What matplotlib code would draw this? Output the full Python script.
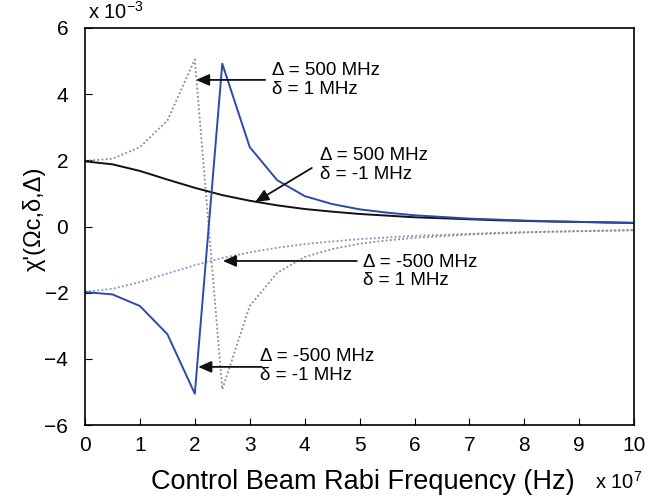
import matplotlib
matplotlib.use("Agg")
import matplotlib.pyplot as plt

plt.rcParams['font.family'] = ['Liberation Sans', 'DejaVu Sans']

# x values in units of 1e7 Hz
x = [0, 0.5, 1, 1.5, 2, 2.5, 3, 3.5, 4, 4.5, 5, 5.5, 6, 6.5, 7, 7.5, 8, 8.5, 9, 9.5, 10]

# values in units of 1e-3
blue_solid = [-1.98, -2.05, -2.4, -3.25, -5.05, 4.92, 2.4, 1.4, 0.92, 0.68, 0.52, 0.42,
              0.34, 0.29, 0.24, 0.21, 0.18, 0.16, 0.14, 0.13, 0.11]
grey_dotted = [1.98, 2.05, 2.4, 3.2, 5.05, -4.92, -2.4, -1.4, -0.92, -0.68, -0.52, -0.42,
               -0.34, -0.29, -0.24, -0.21, -0.18, -0.16, -0.14, -0.13, -0.11]
black_solid = [1.97, 1.88, 1.68, 1.42, 1.17, 0.95, 0.78, 0.64, 0.53, 0.45, 0.38, 0.33,
               0.28, 0.25, 0.22, 0.19, 0.17, 0.15, 0.14, 0.12, 0.11]
lblue_dotted = [-1.97, -1.88, -1.68, -1.42, -1.17, -0.95, -0.78, -0.64, -0.53, -0.45, -0.38,
                -0.33, -0.28, -0.25, -0.22, -0.19, -0.17, -0.15, -0.14, -0.12, -0.11]

xticks = [0, 1, 2, 3, 4, 5, 6, 7, 8, 9, 10]
yticks = [-6, -4, -2, 0, 2, 4, 6]

labels = ["\u0394 = 500 MHz\n\u03b4 = 1 MHz",
          "\u0394 = 500 MHz\n\u03b4 = -1 MHz",
          "\u0394 = -500 MHz\n\u03b4 = 1 MHz",
          "\u0394 = -500 MHz\n\u03b4 = -1 MHz"]
heads = [(2.02, 4.43), (3.10, 0.74), (2.51, -1.04), (2.06, -4.24)]
tails = [(3.28, 4.43), (4.13, 1.77), (4.95, -1.04), (3.22, -4.24)]
text_pos = [(3.41, 4.43), (4.28, 1.86), (5.06, -1.36), (3.19, -4.21)]

fig = plt.figure(figsize=(6.69, 4.99), dpi=100)
ax = fig.add_axes([0.127, 0.148, 0.821, 0.796])

ax.plot(x, lblue_dotted, color='#7f8fd0', lw=1.3, ls=(0, (1, 1.3)))
ax.plot(x, grey_dotted, color='#8a8a8a', lw=1.3, ls=(0, (1, 1.3)))
ax.plot(x, black_solid, color='#111111', lw=1.4)
ax.plot(x, blue_solid, color='#2c4aa8', lw=1.4)

ax.set_xlim(0, 10)
ax.set_ylim(-6, 6)
ax.set_xticks(xticks)
ax.set_yticks(yticks)
ax.set_xticklabels([str(t) for t in xticks])
ax.set_yticklabels([str(t).replace('-', '\u2212') for t in yticks])
ax.tick_params(direction='in', length=5, labelsize=15, top=False, right=False,
               width=0.8)
ax.tick_params(axis='y', pad=12)
ax.tick_params(axis='x', pad=8)
for s in ax.spines.values():
    s.set_linewidth(1.2)

for lab, h, t, tp in zip(labels, heads, tails, text_pos):
    ax.annotate('', xy=h, xytext=t,
                arrowprops=dict(arrowstyle='-|>,head_length=0.8,head_width=0.35',
                                color='#111111', lw=1.3, shrinkA=0, shrinkB=0))
    ax.text(tp[0], tp[1], lab, fontsize=13.5, ha='left', va='center', linespacing=1.1)

ax.set_xlabel('Control Beam Rabi Frequency (Hz)', fontsize=19.5)
ax.xaxis.label.set_va('center')
ax.xaxis.set_label_coords(0.505, -0.142)
ax.set_ylabel("\u03c7'(\u03a9c,\u03b4,\u0394)", fontsize=17)
ax.yaxis.label.set_va('center')
ax.yaxis.set_label_coords(-0.093, 0.52)

fig.text(0.131, 0.955, r'x 10$^{\mathregular{-3}}$', fontsize=14.5, ha='left', va='bottom')
fig.text(0.89, 0.02, r'x 10$^{\mathregular{7}}$', fontsize=14.5, ha='left', va='baseline')

fig.savefig('out.png', dpi=100)
